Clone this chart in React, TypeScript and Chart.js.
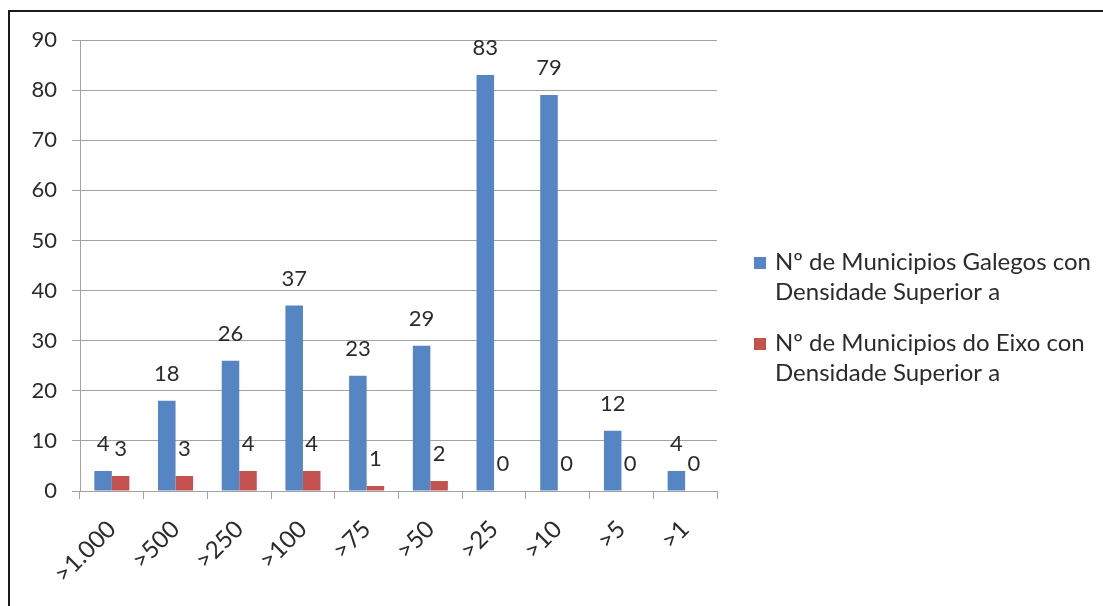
import { useEffect, useRef } from "react";
import { Chart, registerables } from "chart.js";

Chart.register(...registerables);

// Density thresholds (inhabitants per km²)
const categories = [">1.000", ">500", ">250", ">100", ">75", ">50", ">25", ">10", ">5", ">1"];
// Number of Galician municipalities above each density
const galegos = [4, 18, 26, 37, 23, 29, 83, 79, 12, 4];
// Number of municipalities of the axis above each density
const eixo = [3, 3, 4, 4, 1, 2, 0, 0, 0, 0];

const seriesLabels = [
  ["Nº de Municipios Galegos con", "Densidade Superior a"],
  ["Nº de Municipios do Eixo con", "Densidade Superior a"],
];
const seriesColors = ["#5585C2", "#C4524F"];

const yMin = 0;
const yMax = 90;
const yStep = 10;

const FONT = "Lato, 'Open Sans', sans-serif";
const TEXT = "#2b2b2b";
const GRID = "#a3a3a3";

// Value labels above every bar
const valueLabels = {
  id: "valueLabels",
  afterDatasetsDraw(chart: any) {
    const ctx = chart.ctx;
    ctx.save();
    ctx.font = `22px ${FONT}`;
    ctx.fillStyle = TEXT;
    ctx.textAlign = "center";
    ctx.textBaseline = "middle";
    chart.data.datasets.forEach((ds: any, i: number) => {
      const meta = chart.getDatasetMeta(i);
      meta.data.forEach((el: any, j: number) => {
        ctx.fillText(String(ds.data[j]), el.x, el.y - 27);
      });
    });
    ctx.restore();
  },
};

// Legend on the right with two-line entries
const sideLegend = {
  id: "sideLegend",
  afterDraw(chart: any) {
    const ctx = chart.ctx;
    const area = chart.chartArea;
    const x0 = area.right + 37;
    const starts = [262, 343];
    const lineGap = 30;
    ctx.save();
    ctx.font = `24px ${FONT}`;
    ctx.textBaseline = "middle";
    ctx.textAlign = "left";
    chart.data.datasets.forEach((ds: any, i: number) => {
      const y = starts[i];
      ctx.fillStyle = ds.backgroundColor;
      ctx.fillRect(x0, y - 5, 12, 12);
      ctx.fillStyle = TEXT;
      (ds.legendLines as string[]).forEach((line, k) => {
        ctx.fillText(line, x0 + 21, y + k * lineGap);
      });
    });
    ctx.restore();
  },
};

export default function App() {
  const canvasRef = useRef<HTMLCanvasElement | null>(null);

  useEffect(() => {
    const canvas = canvasRef.current;
    if (!canvas) return;
    const chart = new Chart(canvas, {
      type: "bar",
      data: {
        labels: categories,
        datasets: [
          {
            label: seriesLabels[0].join(" "),
            data: galegos,
            backgroundColor: seriesColors[0],
            categoryPercentage: 0.55,
            barPercentage: 1,
            legendLines: seriesLabels[0],
          } as any,
          {
            label: seriesLabels[1].join(" "),
            data: eixo,
            backgroundColor: seriesColors[1],
            categoryPercentage: 0.55,
            barPercentage: 1,
            legendLines: seriesLabels[1],
          } as any,
        ],
      },
      options: {
        responsive: false,
        animation: false,
        layout: { padding: { top: 40, left: 0, right: 386, bottom: 0 } },
        plugins: {
          legend: { display: false },
          tooltip: { enabled: false },
        },
        scales: {
          x: {
            grid: {
              offset: true,
              drawOnChartArea: false,
              drawTicks: true,
              tickLength: 8,
              color: GRID,
            },
            border: { color: GRID },
            ticks: {
              color: TEXT,
              font: { family: FONT, size: 24 },
              minRotation: 45,
              maxRotation: 45,
              padding: 16,
            },
            afterFit: (scale: any) => {
              scale.height = 115;
            },
          },
          y: {
            min: yMin,
            max: yMax,
            grid: { color: GRID, tickLength: 8 },
            border: { color: GRID },
            ticks: {
              stepSize: yStep,
              color: TEXT,
              font: { family: FONT, size: 22 },
              padding: 15,
            },
            afterFit: (scale: any) => {
              scale.width = 80;
            },
          },
        },
      },
      plugins: [valueLabels, sideLegend],
    });
    return () => chart.destroy();
  }, []);

  return (
    <div style={{ position: "fixed", left: 0, top: 0, width: 1103, height: 606, background: "#fff", overflow: "hidden" }}>
      <canvas ref={canvasRef} width={1103} height={606} style={{ position: "absolute", left: 0, top: 0 }} />
      <div
        style={{
          position: "absolute",
          left: 8,
          top: 10,
          width: 1200,
          height: 700,
          borderLeft: "2px solid #1c1c1c",
          borderTop: "2px solid #1c1c1c",
          pointerEvents: "none",
        }}
      />
    </div>
  );
}
